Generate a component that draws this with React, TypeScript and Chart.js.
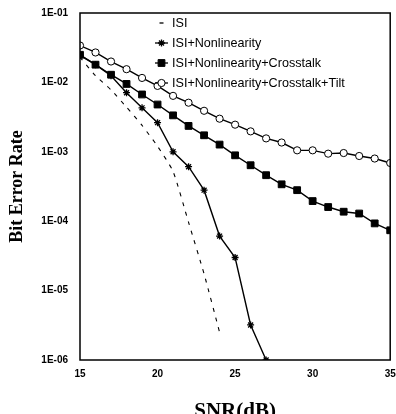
import React, { useEffect, useRef } from "react";
import { Chart, registerables } from "chart.js";

Chart.register(...registerables);

const snr = [15, 16, 17, 18, 19, 20, 21, 22, 23, 24, 25, 26, 27, 28, 29, 30, 31, 32, 33, 34, 35];

const isiOnly = [2.3e-2, 1.25e-2, 7.8e-3, 4.4e-3, 2.4e-3, 1.2e-3, 5.2e-4, 9.6e-5, 1.74e-5, 2.5e-6];
const isiNonlinearity = [2.45e-2, 1.8e-2, 1.25e-2, 7.1e-3, 4.3e-3, 2.63e-3, 1.0e-3, 6.1e-4, 2.8e-4, 6.1e-5, 3.0e-5, 3.2e-6, 1.0e-6];
const isiCrosstalk = [2.5e-2, 1.8e-2, 1.29e-2, 9.5e-3, 6.7e-3, 4.8e-3, 3.35e-3, 2.36e-3, 1.73e-3, 1.27e-3, 8.9e-4, 6.4e-4, 4.6e-4, 3.4e-4, 2.8e-4, 1.95e-4, 1.6e-4, 1.37e-4, 1.29e-4, 9.3e-5, 7.4e-5];
const isiTilt = [3.4e-2, 2.7e-2, 2.0e-2, 1.55e-2, 1.16e-2, 8.9e-3, 6.4e-3, 5.1e-3, 3.9e-3, 3.0e-3, 2.46e-3, 1.97e-3, 1.56e-3, 1.36e-3, 1.05e-3, 1.05e-3, 9.4e-4, 9.6e-4, 8.7e-4, 8.0e-4, 6.9e-4];

const seriesNames = ["ISI", "ISI+Nonlinearity", "ISI+Nonlinearity+Crosstalk", "ISI+Nonlinearity+Crosstalk+Tilt"];
const yTicks = [1e-1, 1e-2, 1e-3, 1e-4, 1e-5, 1e-6];
const xTitle = "SNR(dB)";
const yTitle = "Bit Error Rate";

const toPoints = (vals: number[]) => vals.map((v, i) => ({ x: snr[i], y: v }));

const fmtTick = (v: number) => {
  const e = Math.round(Math.log10(v));
  const a = Math.abs(e);
  return "1E" + (e < 0 ? "-" : "+") + (a < 10 ? "0" + a : String(a));
};

function drawPointShape(ctx: CanvasRenderingContext2D, style: string, x: number, y: number, r: number, fill: string) {
  ctx.beginPath();
  if (style === "circle") {
    ctx.arc(x, y, r, 0, Math.PI * 2);
    ctx.fillStyle = fill;
    ctx.fill();
    ctx.stroke();
  } else if (style === "rect") {
    const s = Math.SQRT1_2 * r;
    ctx.rect(x - s, y - s, 2 * s, 2 * s);
    ctx.fillStyle = fill;
    ctx.fill();
    ctx.stroke();
  } else if (style === "star") {
    ctx.moveTo(x - r, y);
    ctx.lineTo(x + r, y);
    ctx.moveTo(x, y - r);
    ctx.lineTo(x, y + r);
    const d = r * Math.SQRT1_2;
    ctx.moveTo(x - d, y - d);
    ctx.lineTo(x + d, y + d);
    ctx.moveTo(x - d, y + d);
    ctx.lineTo(x + d, y - d);
    ctx.stroke();
  }
}

const legendPlugin = {
  id: "customLegend",
  afterDraw(chart: any) {
    const ctx = chart.ctx;
    const ds = chart.data.datasets;
    const x0 = 155;
    const x1 = 168;
    const xm = 161.5;
    const tx = 172;
    const y0 = 23;
    const dy = 20;
    ctx.save();
    ds.forEach((d: any, i: number) => {
      const y = y0 + i * dy;
      ctx.strokeStyle = "#000";
      ctx.fillStyle = "#000";
      ctx.lineWidth = 1.3;
      ctx.beginPath();
      if (i === 0) {
        ctx.moveTo(159.5, y);
        ctx.lineTo(163.5, y);
      } else {
        ctx.moveTo(x0, y);
        ctx.lineTo(x1, y);
      }
      ctx.stroke();
      if (i > 0) {
        ctx.lineWidth = d.pointBorderWidth ?? 1;
        ctx.strokeStyle = "#000";
        drawPointShape(ctx, d.pointStyle, xm, y, d.pointRadius, d.pointBackgroundColor);
      }
      ctx.fillStyle = "#000";
      ctx.font = "12.6px 'Liberation Sans', Arial, sans-serif";
      ctx.textAlign = "left";
      ctx.textBaseline = "middle";
      ctx.fillText(d.label, tx, y + 1);
    });
    ctx.restore();
  },
};

const framePlugin = {
  id: "frame",
  afterDraw(chart: any) {
    const { ctx, chartArea } = chart;
    ctx.save();
    ctx.strokeStyle = "#000";
    ctx.lineWidth = 1.5;
    ctx.strokeRect(chartArea.left, chartArea.top, chartArea.right - chartArea.left, chartArea.bottom - chartArea.top);
    ctx.restore();
  },
};

export default function App() {
  const ref = useRef<HTMLCanvasElement | null>(null);

  useEffect(() => {
    if (!ref.current) return;
    const chart = new Chart(ref.current, {
      type: "line",
      data: {
        datasets: [
          {
            label: seriesNames[0],
            data: toPoints(isiOnly),
            borderColor: "#000",
            borderWidth: 1.1,
            borderDash: [4, 6],
            pointRadius: 0,
            pointStyle: "line",
            pointBackgroundColor: "#000",
            tension: 0.2,
          },
          {
            label: seriesNames[1],
            data: toPoints(isiNonlinearity),
            borderColor: "#000",
            borderWidth: 1.4,
            pointStyle: "star",
            pointRadius: 3.5,
            pointBorderWidth: 1.3,
            pointBackgroundColor: "#000",
            pointBorderColor: "#000",
          },
          {
            label: seriesNames[2],
            data: toPoints(isiCrosstalk),
            borderColor: "#000",
            borderWidth: 1.4,
            pointStyle: "rect",
            pointRadius: 4.8,
            pointBorderWidth: 1,
            pointBackgroundColor: "#000",
            pointBorderColor: "#000",
          },
          {
            label: seriesNames[3],
            data: toPoints(isiTilt),
            borderColor: "#000",
            borderWidth: 1.4,
            pointStyle: "circle",
            pointRadius: 3.6,
            pointBorderWidth: 1,
            pointBackgroundColor: "#fff",
            pointBorderColor: "#000",
          },
        ],
      },
      options: {
        animation: false,
        responsive: false,
        maintainAspectRatio: false,
        layout: { padding: { left: 0, top: 13, right: 5, bottom: 0 } },
        plugins: {
          legend: { display: false },
          tooltip: { enabled: false },
        },
        scales: {
          x: {
            type: "linear",
            min: 15,
            max: 35,
            grid: { display: false, drawTicks: false },
            border: { display: false },
            ticks: {
              stepSize: 5,
              padding: 8,
              color: "#000",
              font: { family: "'Liberation Sans', Arial, sans-serif", size: 10, weight: "bold" },
            },
            title: {
              display: true,
              text: xTitle,
              color: "#000",
              font: { family: "'Liberation Serif', 'Times New Roman', serif", size: 21, weight: "bold", lineHeight: 1 },
              padding: { top: 0, bottom: -8 },
            },
            afterFit: (s: any) => {
              s.height = 54;
              s.paddingLeft = 0;
              s.paddingRight = 0;
            },
          },
          y: {
            type: "logarithmic",
            min: 1e-6,
            max: 1e-1,
            grid: { display: false, drawTicks: false },
            border: { display: false },
            afterBuildTicks: (s: any) => {
              s.ticks = yTicks.map((v) => ({ value: v }));
            },
            ticks: {
              padding: 12,
              color: "#000",
              font: { family: "'Liberation Sans', Arial, sans-serif", size: 10, weight: "bold" },
              callback: (v: any) => fmtTick(Number(v)),
            },
            title: {
              display: true,
              text: yTitle,
              color: "#000",
              font: { family: "'Liberation Serif', 'Times New Roman', serif", size: 18, weight: "bold", lineHeight: 1 },
              padding: { top: 8, bottom: 0 },
            },
            afterFit: (s: any) => {
              s.width = 80;
              s.paddingTop = 0;
              s.paddingBottom = 0;
            },
          },
        },
      },
      plugins: [legendPlugin, framePlugin],
    } as any);
    return () => chart.destroy();
  }, []);

  return (
    <div style={{ position: "fixed", left: 0, top: 0, width: 396, height: 414, background: "#fff" }}>
      <canvas ref={ref} width={396} height={414} style={{ width: 396, height: 414, display: "block" }} />
    </div>
  );
}
